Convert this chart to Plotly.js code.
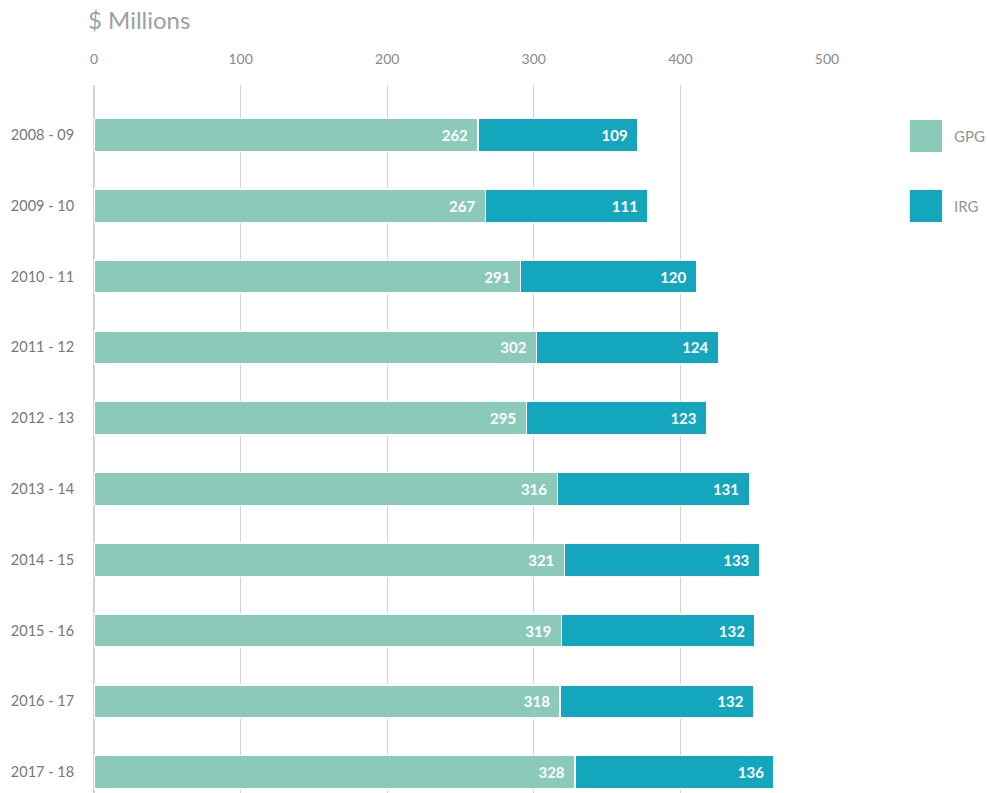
<!DOCTYPE html>
<html>
<head>
<meta charset="utf-8">
<script src="https://cdn.plot.ly/plotly-3.0.1.min.js"></script>
<style>html,body{margin:0;padding:0;background:#fff;}#chart{width:987px;height:793px;}</style>
</head>
<body>
<div id="chart"></div>
<script>
const categories = ["2008 - 09","2009 - 10","2010 - 11","2011 - 12","2012 - 13","2013 - 14","2014 - 15","2015 - 16","2016 - 17","2017 - 18"];
const gpg = [262, 267, 291, 302, 295, 316, 321, 319, 318, 328];
const irg = [109, 111, 120, 124, 123, 131, 133, 132, 132, 136];
const seriesNames = ["GPG", "IRG"];
const seriesColors = ["#8bcab8", "#14a6bd"];
const xTicks = [0, 100, 200, 300, 400, 500];

const seriesData = [gpg, irg];
const traces = seriesData.map((vals, k) => ({
  type: "bar",
  orientation: "h",
  name: seriesNames[k],
  y: categories,
  x: vals,
  width: 0.47,
  marker: {color: seriesColors[k], line: {color: "#ffffff", width: 1.5}},
  text: vals.map(String),
  texttemplate: "%{x}&nbsp;&nbsp;",
  textposition: "inside",
  insidetextanchor: "end",
  textangle: 0,
  insidetextfont: {family: "Lato, 'Open Sans', sans-serif", size: 15, color: "#ffffff", weight: "bold"},
  hoverinfo: "skip",
  cliponaxis: false
}));

const legendShapes = [];
const legendAnn = [];
const legTop = [0.9506, 0.8517];
seriesNames.forEach((n, k) => {
  legendShapes.push({type: "rect", xref: "paper", yref: "paper", x0: 1.113, x1: 1.157, y0: legTop[k] - 0.0452, y1: legTop[k], fillcolor: seriesColors[k], line: {width: 0}});
  legendAnn.push({xref: "paper", yref: "paper", x: 1.171, y: legTop[k] - 0.0226, xanchor: "left", yanchor: "middle", text: n, showarrow: false, font: {family: "Lato, 'Open Sans', sans-serif", size: 15, color: "#959595"}});
});

const layout = {
  width: 987, height: 793,
  margin: {l: 94, r: 160, t: 85, b: 0, pad: 0},
  paper_bgcolor: "#ffffff", plot_bgcolor: "#ffffff",
  barmode: "stack",
  showlegend: false,
  title: {text: "$ Millions", xref: "container", yref: "container", x: 88/987, xanchor: "left", y: 1 - 21/793, yanchor: "middle",
    font: {family: "Lato, 'Open Sans', sans-serif", size: 24, color: "#a0a0a0"}},
  xaxis: {side: "top", range: [0, 500], tickvals: xTicks, ticktext: xTicks.map(String), showgrid: true, gridcolor: "#d3d3d3", gridwidth: 1,
    zeroline: true, zerolinecolor: "#d3d3d3", zerolinewidth: 1.5, showline: false, ticks: "outside", ticklen: 14, tickcolor: "rgba(0,0,0,0)",
    tickfont: {family: "Lato, 'Open Sans', sans-serif", size: 14, color: "#8a8a8a"}, fixedrange: true},
  yaxis: {type: "category", range: [9.294, -0.706], autorange: false, showgrid: false, zeroline: false, showline: false,
    ticks: "outside", ticklen: 16, tickcolor: "rgba(0,0,0,0)",
    tickfont: {family: "Lato, 'Open Sans', sans-serif", size: 14.5, color: "#777777"}, fixedrange: true},
  shapes: legendShapes,
  annotations: legendAnn
};

Plotly.newPlot("chart", traces, layout, {staticPlot: true, displayModeBar: false});
</script>
</body>
</html>
